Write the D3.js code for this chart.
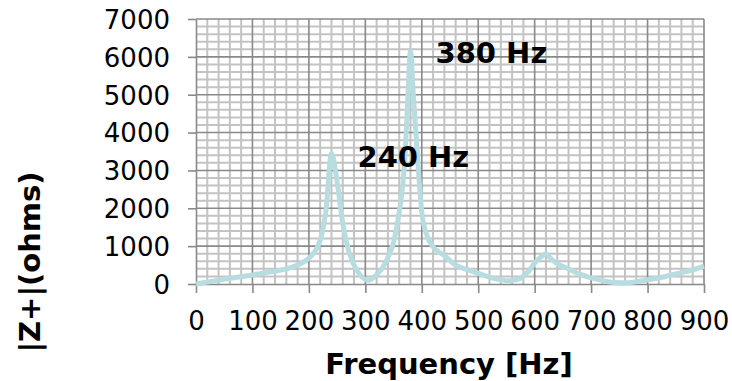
<!DOCTYPE html>
<html>
<head>
<meta charset="utf-8">
<script src="https://cdn.jsdelivr.net/npm/d3@7"></script>
<style>
  body { margin: 0; background: #fff; }
  svg { display: block; font-family: "DejaVu Sans", Verdana, sans-serif; }
</style>
</head>
<body>
<svg width="732" height="381"></svg>
<script>
// impedance curve
const freqHz = [0, 20, 40, 60, 80, 100, 120, 140, 160, 180, 200, 210, 220, 230, 240, 250, 260, 270, 280, 290,
  300, 305, 310, 320, 330, 340, 350, 360, 370, 375, 380, 385, 390, 400, 410, 420, 440, 460, 480, 500,
  520, 540, 555, 570, 590, 600, 610, 620, 630, 640, 660, 680, 700, 720, 740, 760, 780, 800, 820, 840,
  860, 880, 900];
const impedance = [0, 50, 100, 150, 190, 240, 290, 340, 400, 500, 680, 850, 1150, 1900, 3450, 2700, 1600, 900, 500, 250,
  120, 100, 120, 250, 420, 700, 1100, 1900, 3300, 4800, 6150, 5000, 3900, 1900, 1250, 980, 750, 500, 380, 280,
  180, 110, 85, 120, 350, 550, 700, 790, 650, 540, 400, 260, 160, 90, 40, 30, 60, 110, 160, 230,
  300, 370, 470];

const xTicks = [0, 100, 200, 300, 400, 500, 600, 700, 800, 900];
const yTicks = [0, 1000, 2000, 3000, 4000, 5000, 6000, 7000];
const peakLabels = ["380 Hz", "240 Hz"];

const svgWidth = 732, svgHeight = 381;
const margin = { top: 19, right: 28, bottom: 97, left: 196 };
const width = svgWidth - margin.left - margin.right;
const height = svgHeight - margin.top - margin.bottom;

const svg = d3.select("svg");
const g = svg.append("g").attr("transform", `translate(${margin.left},${margin.top})`);

const x = d3.scaleLinear().domain([0, 900]).range([0, width]);
const y = d3.scaleLinear().domain([0, 7000]).range([height, 0]);

// minor grid (20 Hz / 200 ohms)
g.append("g").selectAll("line")
  .data(d3.range(0, 901, 20).filter(d => d % 100 !== 0))
  .join("line")
  .attr("x1", d => x(d)).attr("x2", d => x(d))
  .attr("y1", 0).attr("y2", height)
  .attr("stroke", "#c3c3c3").attr("stroke-width", 2);

g.append("g").selectAll("line")
  .data(d3.range(0, 7001, 200).filter(d => d % 1000 !== 0))
  .join("line")
  .attr("x1", 0).attr("x2", width)
  .attr("y1", d => y(d)).attr("y2", d => y(d))
  .attr("stroke", "#c3c3c3").attr("stroke-width", 2);

// major grid
g.append("g").selectAll("line")
  .data(xTicks.slice(1))
  .join("line")
  .attr("x1", d => x(d)).attr("x2", d => x(d))
  .attr("y1", 0).attr("y2", height)
  .attr("stroke", "#898989").attr("stroke-width", 1.6);

g.append("g").selectAll("line")
  .data(yTicks.slice(1))
  .join("line")
  .attr("x1", 0).attr("x2", width)
  .attr("y1", d => y(d)).attr("y2", d => y(d))
  .attr("stroke", "#898989").attr("stroke-width", 1.6);

// axes
const xAxis = d3.axisBottom(x).tickValues(xTicks).tickFormat(d3.format("d"))
  .tickSize(9).tickPadding(19).tickSizeOuter(0);
const yAxis = d3.axisLeft(y).tickValues(yTicks).tickFormat(d3.format("d"))
  .tickSize(8).tickPadding(18).tickSizeOuter(0);

const gx = g.append("g").attr("transform", `translate(0,${height})`).call(xAxis);
const gy = g.append("g").call(yAxis);

[gx, gy].forEach(a => {
  a.selectAll("path, line").attr("stroke", "#898989").attr("stroke-width", 1.6);
  a.selectAll("text")
    .attr("fill", "#000")
    .style("font-size", "26px")
    .style("font-family", "'DejaVu Sans', Verdana, sans-serif");
});
gy.selectAll("text").attr("dy", "0.36em");

// the curve
const line = d3.line()
  .x((d, i) => x(freqHz[i]))
  .y(d => y(d))
  .curve(d3.curveMonotoneX);

g.append("path")
  .datum(impedance)
  .attr("fill", "none")
  .attr("stroke", "#b7dde0")
  .attr("stroke-width", 5)
  .attr("stroke-linejoin", "round")
  .attr("d", line);

// peak labels, placed to the right of each peak
g.append("text")
  .attr("x", x(380) + 25)
  .attr("y", 44)
  .style("font-size", "29px")
  .style("font-weight", "bold")
  .text(peakLabels[0]);

g.append("text")
  .attr("x", x(240) + 26)
  .attr("y", 148)
  .style("font-size", "29px")
  .style("font-weight", "bold")
  .text(peakLabels[1]);

// axis titles
svg.append("text")
  .attr("x", margin.left + x(450) - 1)
  .attr("y", 374)
  .attr("text-anchor", "middle")
  .style("font-size", "29px")
  .style("font-weight", "bold")
  .text("Frequency [Hz]");

svg.append("text")
  .attr("transform", "translate(40,262) rotate(-90)")
  .attr("text-anchor", "middle")
  .style("font-size", "29px")
  .style("font-weight", "bold")
  .text("|Z+|(ohms)");
</script>
</body>
</html>
